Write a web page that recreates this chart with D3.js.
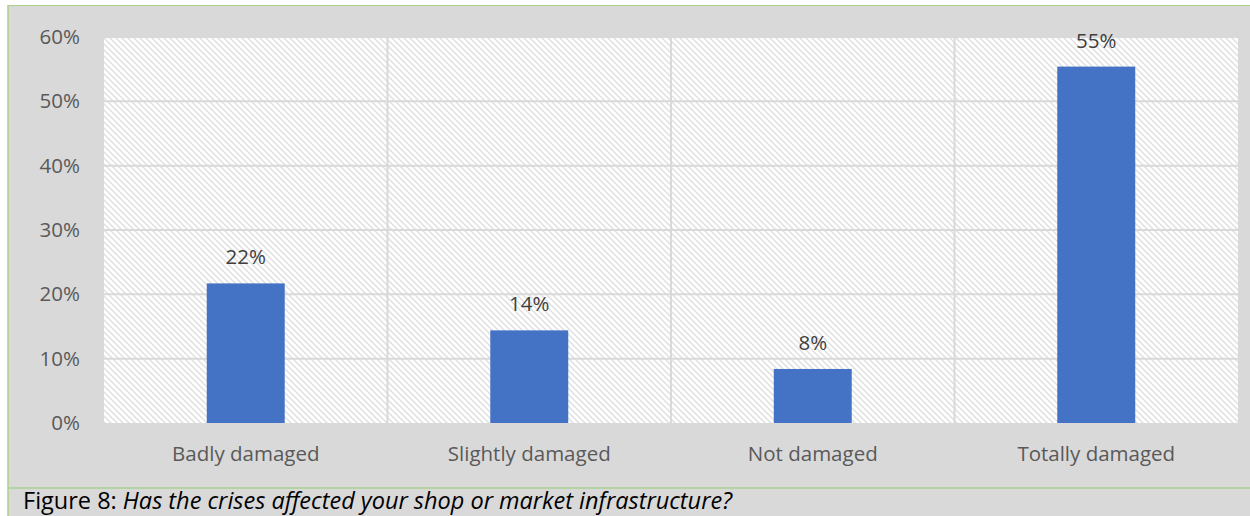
<!DOCTYPE html>
<html>
<head>
<meta charset="utf-8">
<script src="https://cdn.jsdelivr.net/npm/d3@7"></script>
<style>
  html, body { margin: 0; padding: 0; background: #ffffff; }
  svg { display: block; }
</style>
</head>
<body>
<svg id="chart" width="1250" height="516"></svg>
<script>
// Share of shops by damage level
const categories = ["Badly damaged", "Slightly damaged", "Not damaged", "Totally damaged"];
const shares = [0.217, 0.144, 0.084, 0.554];
const yTicks = [0, 0.1, 0.2, 0.3, 0.4, 0.5, 0.6];
const captionLead = "Figure 8: ";
const captionText = "Has the crises affected your shop or market infrastructure?";

const W = 1250, H = 516;
const plot = { left: 104, right: 1238, top: 37, bottom: 423 };

const svg = d3.select("#chart");
const font = "'Open Sans', sans-serif";
const labelSize = 20.5;

// diagonal hatch used as the plot fill
const defs = svg.append("defs");
const pat = defs.append("pattern")
  .attr("id", "hatch")
  .attr("patternUnits", "userSpaceOnUse")
  .attr("width", 6).attr("height", 6);
pat.append("rect").attr("width", 6).attr("height", 6).attr("fill", "#ffffff");
pat.append("path")
  .attr("d", "M-1,-1 L7,7 M-1,5 L1,7 M5,-1 L7,1")
  .attr("stroke", "#e0e0e0")
  .attr("stroke-width", 1.5);

// frame background and green border
svg.append("rect").attr("x", 8).attr("y", 5).attr("width", W - 8).attr("height", H - 5)
  .attr("fill", "#d9d9d9");
svg.append("line").attr("x1", 8).attr("x2", W).attr("y1", 5.5).attr("y2", 5.5)
  .attr("stroke", "#a9d18e").attr("stroke-width", 1.2);
svg.append("line").attr("x1", 8).attr("x2", 8).attr("y1", 5).attr("y2", H)
  .attr("stroke", "#a9d18e").attr("stroke-width", 1.5);
svg.append("line").attr("x1", 8).attr("x2", W).attr("y1", 488).attr("y2", 488)
  .attr("stroke", "#a9d18e").attr("stroke-width", 1.5);

const x = d3.scaleBand().domain(categories)
  .range([plot.left, plot.right]).paddingInner(0.725).paddingOuter(0.3625);
const xBand = d3.scaleBand().domain(categories).range([plot.left, plot.right]);
const y = d3.scaleLinear().domain([0, 0.6]).range([plot.bottom, plot.top]);

// plot area
svg.append("rect")
  .attr("x", plot.left).attr("y", plot.top)
  .attr("width", plot.right - plot.left).attr("height", plot.bottom - plot.top)
  .attr("fill", "url(#hatch)");

// horizontal gridlines
svg.append("g").selectAll("line").data(yTicks.filter(d => d > 0)).join("line")
  .attr("x1", plot.left).attr("x2", plot.right)
  .attr("y1", d => y(d)).attr("y2", d => y(d))
  .attr("stroke", "#d9d9d9").attr("stroke-width", 2);

// vertical gridlines between categories
svg.append("g").selectAll("line").data(categories.slice(1)).join("line")
  .attr("x1", d => xBand(d)).attr("x2", d => xBand(d))
  .attr("y1", plot.top).attr("y2", plot.bottom)
  .attr("stroke", "#d9d9d9").attr("stroke-width", 2);

// y axis labels
const yAxis = d3.axisLeft(y).tickValues(yTicks).tickFormat(d3.format(".0%")).tickSize(0).tickPadding(24);
const gy = svg.append("g").attr("transform", `translate(${plot.left},0)`).call(yAxis);
gy.select(".domain").remove();
gy.selectAll("text").attr("font-family", font).attr("font-size", labelSize).attr("fill", "#595959");

// x axis labels
const xAxis = d3.axisBottom(xBand).tickSize(0).tickPadding(23);
const gx = svg.append("g").attr("transform", `translate(0,${plot.bottom})`).call(xAxis);
gx.select(".domain").remove();
gx.selectAll("text").attr("font-family", font).attr("font-size", labelSize).attr("fill", "#595959");

// bars
svg.append("g").selectAll("rect").data(categories).join("rect")
  .attr("x", d => x(d))
  .attr("width", x.bandwidth())
  .attr("y", (d, i) => y(shares[i]))
  .attr("height", (d, i) => y(0) - y(shares[i]))
  .attr("fill", "#4472c4");

// value labels
svg.append("g").selectAll("text").data(categories).join("text")
  .attr("x", d => x(d) + x.bandwidth() / 2)
  .attr("y", (d, i) => y(shares[i]) - 19)
  .attr("text-anchor", "middle")
  .attr("font-family", font).attr("font-size", labelSize).attr("fill", "#404040")
  .text((d, i) => d3.format(".0%")(shares[i]));

// caption
const cap = svg.append("text").attr("x", 23).attr("y", 509)
  .attr("font-family", font).attr("font-size", 23.5).attr("fill", "#000000");
cap.append("tspan").text(captionLead);
cap.append("tspan").attr("font-style", "italic").text(captionText);
</script>
</body>
</html>
